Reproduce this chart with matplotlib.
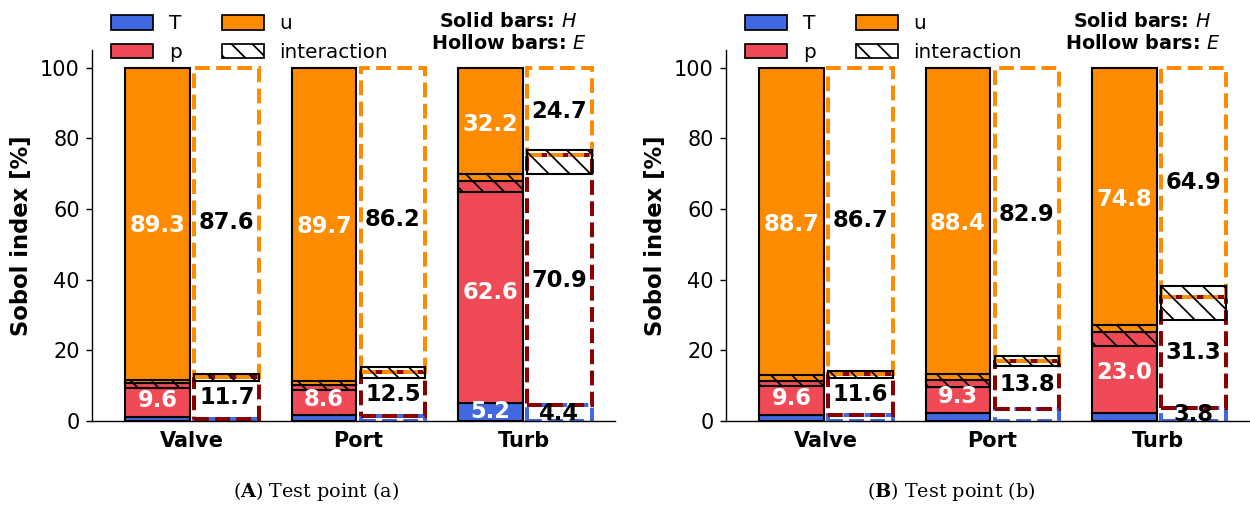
import numpy as np
import matplotlib
matplotlib.use('Agg')
import matplotlib.pyplot as plt
from matplotlib.patches import Patch

plt.rcParams['font.family'] = 'DejaVu Sans'
plt.rcParams['mathtext.fontset'] = 'custom'
plt.rcParams['mathtext.rm'] = 'DejaVu Serif'
plt.rcParams['mathtext.bf'] = 'DejaVu Serif:bold'
plt.rcParams['mathtext.it'] = 'DejaVu Sans:italic'

groups = ['Valve', 'Port', 'Turb']

# test point (a): solid bars = H, hollow bars = E
a_H_T = [1.1, 1.7, 5.2]
a_H_p = [9.6, 8.6, 62.6]
a_H_u = [89.3, 89.7, 32.2]
a_H_int_p = [1.5, 1.4, 3.1]
a_H_int_u = [0.9, 0.9, 2.0]
a_E_T = [0.7, 1.3, 4.4]
a_E_p = [11.7, 12.5, 70.9]
a_E_u = [87.6, 86.2, 24.7]
a_E_int_p = [1.0, 1.5, 5.3]
a_E_int_u = [0.8, 1.4, 1.5]

# test point (b)
b_H_T = [1.7, 2.3, 2.2]
b_H_p = [9.6, 9.3, 23.0]
b_H_u = [88.7, 88.4, 74.8]
b_H_int_p = [1.4, 2.1, 3.9]
b_H_int_u = [1.7, 1.6, 2.1]
b_E_T = [1.7, 3.3, 3.8]
b_E_p = [11.6, 13.8, 31.3]
b_E_u = [86.7, 82.9, 64.9]
b_E_int_p = [1.1, 1.5, 6.6]
b_E_int_u = [0.8, 1.3, 3.0]

c_T = 'royalblue'
c_p = '#ef4a55'
c_u = 'darkorange'
edge_T = 'royalblue'
edge_p = 'darkred'
edge_u = 'darkorange'

width = 0.39
min_label = 3.5
hatch = '\\\\'


def draw_bars(ax, x, T, p, u, int_p, int_u, solid):
    T, p, u = np.array(T), np.array(p), np.array(u)
    int_p, int_u = np.array(int_p), np.array(int_u)
    segs = [(T, np.zeros_like(T), c_T, edge_T),
            (p, T, c_p, edge_p),
            (u, T + p, c_u, edge_u)]
    for vals, bot, fc, ec in segs:
        if solid:
            ax.bar(x, vals, width, bottom=bot, color=fc, edgecolor='black', lw=1.2)
        else:
            ax.bar(x, vals, width, bottom=bot, facecolor='none', edgecolor=ec,
                   ls='--', lw=2.3)
        for xi, v, b in zip(x, vals, bot):
            if v >= min_label:
                ax.text(xi, b + v / 2, f'{v:.1f}', ha='center', va='center',
                        fontsize=13, fontweight='bold',
                        color='white' if solid else 'black')
    # interaction region around the p/u boundary
    ax.bar(x, int_p + int_u, width, bottom=T + p - int_p, fill=False,
           edgecolor='black', hatch=hatch, lw=1.2)


def draw_panel(ax, H, E):
    x = np.arange(len(groups))
    draw_bars(ax, x - 0.205, *H, solid=True)
    draw_bars(ax, x + 0.21, *E, solid=False)

    ax.set_xlim(-0.6, 2.545)
    ax.set_ylim(0, 105)
    ax.set_xticks(x)
    ax.set_xticklabels(groups, fontweight='bold', fontsize=12)
    ax.tick_params(axis='x', length=0, pad=6)
    ax.tick_params(axis='y', labelsize=12)
    ax.set_yticks([0, 20, 40, 60, 80, 100])
    ax.set_ylabel('Sobol index [%]', fontweight='bold', fontsize=13, labelpad=4)
    ax.spines['top'].set_visible(False)
    ax.spines['right'].set_visible(False)

    handles = [Patch(facecolor=c_T, edgecolor='black'),
               Patch(facecolor=c_p, edgecolor='black'),
               Patch(facecolor=c_u, edgecolor='black'),
               Patch(facecolor='white', edgecolor='black', hatch=hatch)]
    ax.legend(handles, ['T', 'p', 'u', 'interaction'], ncol=2, frameon=False,
              loc='upper left', bbox_to_anchor=(0.002, 1.145), fontsize=11.5,
              handlelength=2.1, handleheight=0.75)
    ax.text(0.796, 1.102, 'Solid bars: $H$\nHollow bars: $E$', transform=ax.transAxes,
            ha='center', va='top', fontweight='bold', fontsize=11,
            multialignment='center')


fig = plt.figure(figsize=(10, 4.064), dpi=125)
ax1 = fig.add_axes([0.0736, 0.1713, 0.4184, 0.7303])
ax2 = fig.add_axes([0.5808, 0.1713, 0.4184, 0.7303])

draw_panel(ax1, (a_H_T, a_H_p, a_H_u, a_H_int_p, a_H_int_u),
           (a_E_T, a_E_p, a_E_u, a_E_int_p, a_E_int_u))
draw_panel(ax2, (b_H_T, b_H_p, b_H_u, b_H_int_p, b_H_int_u),
           (b_E_T, b_E_p, b_E_u, b_E_int_p, b_E_int_u))

fig.text(316 / 1250, 0.0315, r'($\mathbf{A}$) Test point (a)', family='DejaVu Serif',
         fontsize=11, ha='center', va='center')
fig.text(951 / 1250, 0.0315, r'($\mathbf{B}$) Test point (b)', family='DejaVu Serif',
         fontsize=11, ha='center', va='center')

fig.savefig('out.png', dpi=125)
